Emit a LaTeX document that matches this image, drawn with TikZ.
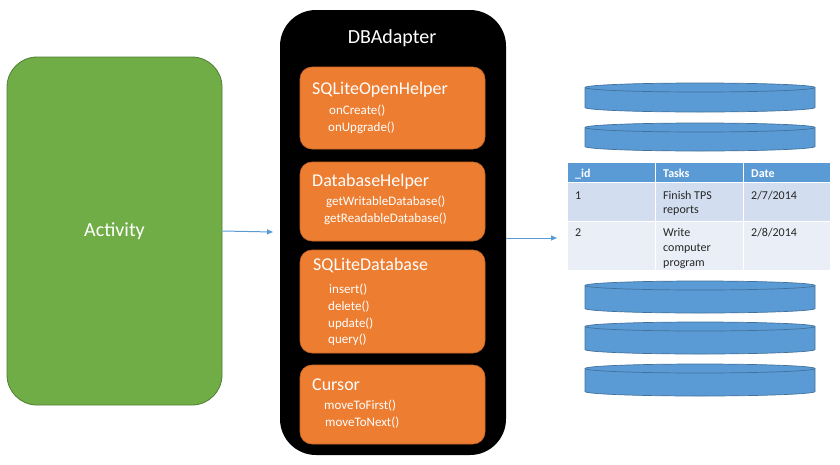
\documentclass[tikz,border=0pt]{standalone}
\usepackage{fontspec}
\setmainfont{Carlito}
\usetikzlibrary{arrows.meta}
\definecolor{actgreen}{HTML}{70AD47}
\definecolor{actgreenD}{HTML}{507E32}
\definecolor{orng}{HTML}{ED7D31}
\definecolor{orngD}{HTML}{C8672A}
\definecolor{dblue}{HTML}{5B9BD5}
\definecolor{dblueD}{HTML}{41719C}
\definecolor{rowA}{HTML}{D2DEEF}
\definecolor{rowB}{HTML}{EAEFF7}
\definecolor{celltext}{HTML}{262626}
\begin{document}
\begin{tikzpicture}[x=1pt,y=-1pt,
  activity/.style={draw=actgreenD, line width=0.8pt, fill=actgreen, rounded corners=30pt, minimum width=215pt, minimum height=348pt, text=white, font=\fontsize{20}{24}\selectfont, inner sep=0},
  adapter/.style={fill=black, rounded corners=36pt, minimum width=226pt, minimum height=445pt, inner sep=0},
  cls/.style={draw=orngD, line width=0.6pt, fill=orng, rounded corners=12pt, minimum width=185pt, inner sep=0},
  bigtitle/.style={text=white, inner sep=0, font=\fontsize{20}{24}\selectfont},
  title/.style={text=white, anchor=west, inner sep=0, font=\fontsize{18}{22}\selectfont, text height=0.68em, text depth=0.18em},
  meth/.style={text=white, anchor=west, inner sep=0, font=\fontsize{13}{16}\selectfont, text height=0.68em, text depth=0.18em},
  arr/.style={draw=dblue, line width=1pt, -{Triangle[length=6pt,width=5pt]}},
  disk/.style={fill=dblue, draw=dblueD, line width=0.7pt},
  cell/.style={draw=white, line width=1pt, anchor=north west, inner sep=0, minimum height=#1},
  ctext/.style={anchor=west, inner sep=0, text=celltext, font=\fontsize{12}{14}\selectfont, text height=0.66em, text depth=0.16em},
  htext/.style={ctext, text=white, font=\bfseries\fontsize{12}{14}\selectfont}
]
\useasboundingbox (0,0) rectangle (840,464);

% Activity
\node[activity] (act) at (114.5,231) {Activity};

% DBAdapter container
\node[adapter] (db) at (393,232.5) {};
\node[bigtitle] (dbt) at (392,38) {DBAdapter};

% class boxes
\node[cls, minimum height=82pt]  (b1) at (392.5,108) {};
\node[cls, minimum height=79pt]  (b2) at (392.5,201.5) {};
\node[cls, minimum height=103pt] (b3) at (392.5,301.5) {};
\node[cls, minimum height=79pt]  (b4) at (392.5,404.5) {};

\node[title] (t1) at (312,92) {SQLiteOpenHelper};
\node[meth] (m11) at (329,112) {onCreate()};
\node[meth] (m12) at (328,129) {onUpgrade()};

\node[title] (t2) at (312,184) {DatabaseHelper};
\node[meth] (m21) at (326,203) {getWritableDatabase()};
\node[meth] (m22) at (324,220) {getReadableDatabase()};

\node[title] (t3) at (313,268) {SQLiteDatabase};
\node[meth] (m31) at (329,291) {insert()};
\node[meth] (m32) at (328,308) {delete()};
\node[meth] (m33) at (328,324.5) {update()};
\node[meth] (m34) at (328,341) {query()};

\node[title] (t4) at (312,388) {Cursor};
\node[meth] (m41) at (324,407) {moveToFirst()};
\node[meth] (m42) at (325,424) {moveToNext()};

% arrows
\coordinate (a1end) at (273,232);
\draw[arr] (act.east) -- (a1end);
\coordinate (a2end) at (557,238);
\draw[arr] (db.east |- a2end) -- (a2end);

% disks
\foreach \t/\b in {83/112, 123/151, 281/313, 322/354, 364/396}{
  \filldraw[disk] (585,\t+4.5) -- (585,\b-4.5)
     arc[start angle=180, end angle=0, x radius=115, y radius=4.5]
     -- (815,\t+4.5)
     arc[start angle=0, end angle=-180, x radius=115, y radius=4.5] -- cycle;
  \draw[dblueD, line width=0.7pt] (585,\t+4.5) arc[start angle=180, end angle=0, x radius=115, y radius=4.5];
}

% table
\node[cell=20pt, fill=dblue, minimum width=88pt] (h1) at (567,162) {};
\node[cell=20pt, fill=dblue, minimum width=88pt] (h2) at (655,162) {};
\node[cell=20pt, fill=dblue, minimum width=87pt] (h3) at (743,162) {};
\node[cell=39pt, fill=rowA, minimum width=88pt] (r11) at (567,182) {};
\node[cell=39pt, fill=rowA, minimum width=88pt] (r12) at (655,182) {};
\node[cell=39pt, fill=rowA, minimum width=87pt] (r13) at (743,182) {};
\node[cell=49pt, fill=rowB, minimum width=88pt] (r21) at (567,221) {};
\node[cell=49pt, fill=rowB, minimum width=88pt] (r22) at (655,221) {};
\node[cell=49pt, fill=rowB, minimum width=87pt] (r23) at (743,221) {};

\node[htext] (ht1) at (575,175) {\_id};
\node[htext] (ht2) at (663,175) {Tasks};
\node[htext] (ht3) at (751,175) {Date};

\node[ctext] (c11) at (575,197) {1};
\node[ctext] (c12a) at (663,197) {Finish TPS};
\node[ctext] (c12b) at (663,211) {reports};
\node[ctext] (c13) at (751,197) {2/7/2014};

\node[ctext] (c21) at (575,234) {2};
\node[ctext] (c22a) at (663,234) {Write};
\node[ctext] (c22b) at (663,249) {computer};
\node[ctext] (c22c) at (663,263.5) {program};
\node[ctext] (c23) at (751,234) {2/8/2014};
\end{tikzpicture}
\end{document}
